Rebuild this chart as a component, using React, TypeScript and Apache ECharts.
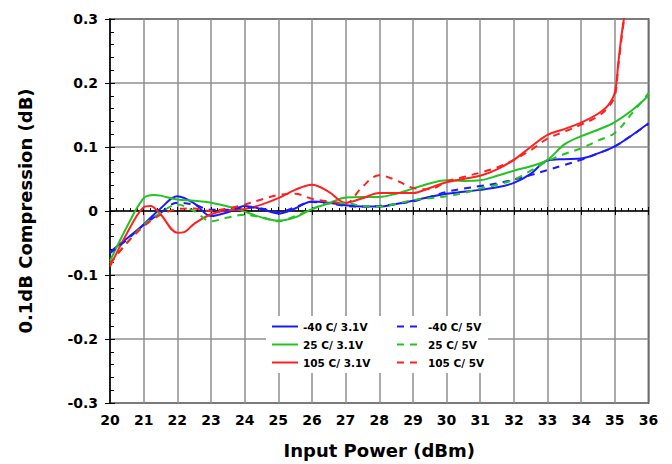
import React, { useEffect, useRef } from "react";
import * as echarts from "echarts";

const seriesNames = ["-40 C/ 3.1V", "25 C/ 3.1V", "105 C/ 3.1V", "-40 C/ 5V", "25 C/ 5V", "105 C/ 5V"];

const blue31: [number, number][] = [
  [20, -0.064], [20.5, -0.043], [21, -0.021], [21.5, 0.004], [22, 0.023], [22.5, 0.012], [23, -0.008],
  [23.5, -0.002], [24, 0.008], [24.5, 0.003], [25, -0.004], [25.5, 0.004], [26, 0.015], [26.5, 0.013],
  [27, 0.009], [27.5, 0.007], [28, 0.007], [28.5, 0.011], [29, 0.016], [29.5, 0.022], [30, 0.027],
  [30.5, 0.03], [31, 0.033], [31.5, 0.037], [32, 0.044], [32.5, 0.058], [33, 0.079], [33.5, 0.081],
  [34, 0.082], [34.5, 0.09], [35, 0.101], [35.5, 0.118], [36, 0.137],
];
const blue5: [number, number][] = [
  [20, -0.066], [20.5, -0.045], [21, -0.022], [21.5, -0.003], [22, 0.013], [22.5, 0.01], [23, 0.002],
  [23.5, 0.002], [24, 0.006], [24.5, 0.004], [25, -0.002], [25.5, 0.006], [26, 0.014], [26.5, 0.012],
  [27, 0.008], [27.5, 0.007], [28, 0.008], [28.5, 0.011], [29, 0.015], [29.5, 0.022], [30, 0.03],
  [30.5, 0.035], [31, 0.039], [31.5, 0.043], [32, 0.049], [32.5, 0.056], [33, 0.064], [33.5, 0.072],
  [34, 0.08], [34.5, 0.09], [35, 0.101], [35.5, 0.118], [36, 0.136],
];
const green31: [number, number][] = [
  [20, -0.078], [20.5, -0.025], [21, 0.02], [21.3, 0.025], [21.5, 0.024], [22, 0.018], [22.5, 0.016],
  [23, 0.013], [23.5, 0.007], [24, -0.001], [24.5, -0.01], [25, -0.015], [25.5, -0.01], [26, 0.003],
  [26.5, 0.012], [27, 0.021], [27.5, 0.022], [28, 0.022], [28.5, 0.027], [29, 0.035], [29.5, 0.043],
  [30, 0.048], [30.5, 0.047], [31, 0.048], [31.5, 0.055], [32, 0.063], [32.5, 0.07], [33, 0.08],
  [33.5, 0.104], [34, 0.117], [34.5, 0.127], [35, 0.139], [35.5, 0.157], [36, 0.18],
];
const green5: [number, number][] = [
  [20, -0.082], [20.5, -0.05], [21, -0.022], [21.5, -0.003], [22, 0.01], [22.5, 0.0], [23, -0.016],
  [23.5, -0.01], [24, -0.006], [24.5, -0.01], [25, -0.016], [25.5, -0.008], [26, 0.003], [26.5, 0.012],
  [27, 0.012], [27.5, 0.008], [28, 0.007], [28.5, 0.011], [29, 0.017], [29.5, 0.02], [30, 0.023],
  [30.5, 0.028], [31, 0.035], [31.5, 0.041], [32, 0.049], [32.5, 0.063], [33, 0.078], [33.5, 0.089],
  [34, 0.098], [34.5, 0.11], [35, 0.122], [35.5, 0.152], [36, 0.184],
];
const red31: [number, number][] = [
  [20, -0.087], [20.5, -0.035], [21, 0.006], [21.2, 0.008], [21.5, -0.005], [22, -0.034], [22.2, -0.033],
  [22.5, -0.02], [23, -0.005], [23.5, 0.001], [24, 0.003], [24.5, 0.01], [25, 0.02], [25.5, 0.033],
  [26, 0.041], [26.5, 0.03], [27, 0.013], [27.5, 0.02], [28, 0.028], [28.5, 0.028], [29, 0.028],
  [29.5, 0.036], [30, 0.045], [30.5, 0.05], [31, 0.055], [31.5, 0.065], [32, 0.08], [32.5, 0.1],
  [33, 0.119], [33.5, 0.128], [34, 0.138], [34.5, 0.152], [34.8, 0.165], [35, 0.185], [35.1, 0.23],
  [35.2, 0.275], [35.3, 0.31],
];
const red5: [number, number][] = [
  [20, -0.082], [20.5, -0.05], [21, -0.024], [21.5, -0.006], [22, 0.003], [22.5, 0.004], [23, 0.0],
  [23.5, 0.004], [24, 0.01], [24.5, 0.018], [25, 0.025], [25.5, 0.027], [26, 0.019], [26.5, 0.015],
  [27, 0.012], [27.5, 0.038], [28, 0.056], [28.5, 0.048], [29, 0.036], [29.5, 0.034], [30, 0.046],
  [30.5, 0.053], [31, 0.06], [31.5, 0.068], [32, 0.08], [32.5, 0.095], [33, 0.113], [33.5, 0.124],
  [34, 0.135], [34.5, 0.148], [34.8, 0.162], [35, 0.18], [35.1, 0.225], [35.2, 0.27], [35.3, 0.31],
];

const xMin = 20;
const xMax = 36;
const yMin = -0.3;
const yMax = 0.3;

const FONT = "DejaVu Sans";
const BLUE = "#1a1aff";
const GREEN = "#22c422";
const RED = "#ff2020";

export default function App() {
  const ref = useRef<HTMLDivElement>(null);
  useEffect(() => {
    if (!ref.current) return;
    const chart = echarts.init(ref.current, null, { renderer: "svg" });
    const mk = (name: string, data: [number, number][], color: string, dashed: boolean) => ({
      name,
      type: "line",
      data,
      smooth: 0.35,
      symbol: "none",
      clip: true,
      xAxisIndex: 0,
      yAxisIndex: 0,
      lineStyle: { color, width: 2, type: dashed ? [7, 6] : "solid" },
      itemStyle: { color },
      z: 2,
    });
    const legendCommon = {
      orient: "vertical",
      itemWidth: 26,
      itemHeight: 10,
      itemGap: 7,
      itemStyle: { opacity: 0 },
      textStyle: { fontFamily: FONT, fontWeight: "bold", fontSize: 10.5, color: "#000" },
      padding: 0,
      z: 5,
    };
    const labelStyle = { fontFamily: FONT, fontWeight: "bold", fontSize: 14, color: "#000" };
    const nameStyle = { fontFamily: FONT, fontWeight: "bold", fontSize: 18, color: "#000" };
    chart.setOption({
      animation: false,
      grid: {
        left: 110,
        right: 23.5,
        top: 19,
        bottom: 61,
        show: true,
        borderColor: "#000",
        borderWidth: 1.5,
      },
      graphic: [
        {
          type: "rect",
          z: 4,
          shape: { x: 266, y: 316, width: 222, height: 57 },
          style: { fill: "#fff" },
        },
      ],
      legend: [
        { ...legendCommon, data: seriesNames.slice(0, 3), left: 271, top: 321 },
        { ...legendCommon, data: seriesNames.slice(3, 6), left: 396, top: 321 },
      ],
      xAxis: [
        {
          type: "value",
          min: xMin,
          max: xMax,
          interval: 1,
          position: "bottom",
          name: "Input Power (dBm)",
          nameLocation: "middle",
          nameGap: 38,
          nameTextStyle: nameStyle,
          axisLine: { show: true, lineStyle: { color: "#000", width: 1.5 } },
          axisTick: { show: true, inside: true, length: 4, lineStyle: { color: "#000" } },
          minorTick: { show: true, splitNumber: 5, length: 3, lineStyle: { color: "#000" } },
          axisLabel: { ...labelStyle, margin: 10 },
          splitLine: { show: true, lineStyle: { color: "#8f8f8f", width: 1.5 } },
        },
        {
          type: "value",
          min: xMin,
          max: xMax,
          interval: 1,
          position: "bottom",
          axisLine: { show: false },
          axisTick: { show: true, inside: false, length: 4, lineStyle: { color: "#000" } },
          minorTick: { show: false },
          axisLabel: { show: false },
          splitLine: { show: false },
        },
      ],
      yAxis: [
        {
          type: "value",
          min: yMin,
          max: yMax,
          interval: 0.1,
          position: "left",
          name: "0.1dB Compression (dB)",
          nameLocation: "middle",
          nameGap: 76,
          nameTextStyle: nameStyle,
          axisLine: { show: true, lineStyle: { color: "#000", width: 1.5 } },
          axisTick: { show: true, inside: true, length: 5, lineStyle: { color: "#000" } },
          minorTick: { show: true, splitNumber: 5, length: 4, lineStyle: { color: "#000" } },
          axisLabel: {
            ...labelStyle,
            margin: 12,
            formatter: (v: number) => (Math.abs(v) < 1e-9 ? "0" : String(Math.round(v * 10) / 10)),
          },
          splitLine: { show: true, lineStyle: { color: "#8f8f8f", width: 1.5 } },
        },
        {
          type: "value",
          min: yMin,
          max: yMax,
          interval: 0.1,
          position: "left",
          axisLine: { show: false },
          axisTick: { show: true, inside: false, length: 5, lineStyle: { color: "#000" } },
          minorTick: { show: false },
          axisLabel: { show: false },
          splitLine: { show: false },
        },
      ],
      series: [
        mk(seriesNames[0], blue31, BLUE, false),
        mk(seriesNames[1], green31, GREEN, false),
        mk(seriesNames[2], red31, RED, false),
        mk(seriesNames[3], blue5, BLUE, true),
        mk(seriesNames[4], green5, GREEN, true),
        mk(seriesNames[5], red5, RED, true),
      ],
    });
    return () => chart.dispose();
  }, []);
  return (
    <div
      ref={ref}
      style={{ position: "fixed", left: 0, top: 0, width: 672, height: 464, background: "#fff" }}
    />
  );
}
